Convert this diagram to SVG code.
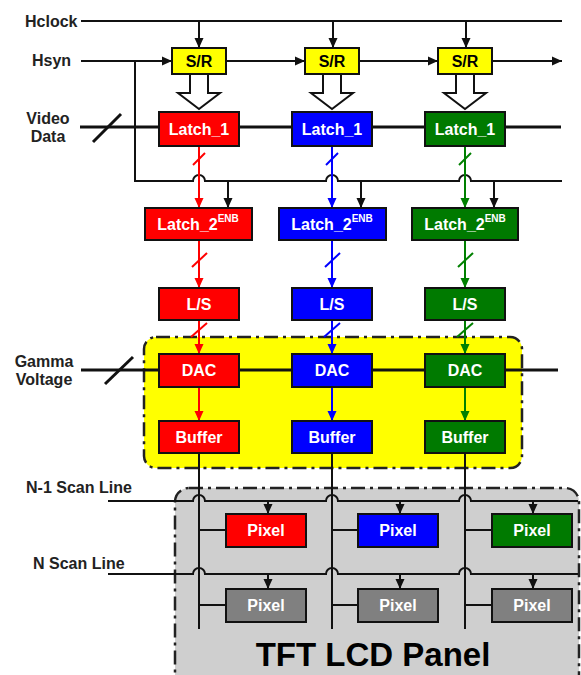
<svg xmlns="http://www.w3.org/2000/svg" width="581" height="675" viewBox="0 0 581 675">
<style>
.lbl{font-family:"Liberation Sans",Arial,sans-serif;font-weight:bold;font-size:16px;fill:#222}
.bt{font-family:"Liberation Sans",Arial,sans-serif;font-weight:bold;font-size:16px;fill:#fff;text-anchor:middle}
.sr{font-family:"Liberation Sans",Arial,sans-serif;font-weight:bold;font-size:16px;fill:#000;text-anchor:middle}
.box{stroke:#111;stroke-width:2}
.r{fill:#ff0000}.b{fill:#0000ff}.g{fill:#007a00}.y{fill:#ffff00}.gr{fill:#808080}
.ln{fill:none;stroke:#111;stroke-width:2}
.thick{fill:none;stroke:#111;stroke-width:3}
.lr{fill:none;stroke:#ff0000;stroke-width:2}
.lb{fill:none;stroke:#0000ff;stroke-width:2}
.lg{fill:none;stroke:#008000;stroke-width:2}
</style>
<defs>
<marker id="ak" markerUnits="userSpaceOnUse" markerWidth="10" markerHeight="10" refX="10" refY="5" orient="auto"><path d="M0,0.5 L10,5 L0,9.5 z" fill="#111"/></marker>
<marker id="ar" markerUnits="userSpaceOnUse" markerWidth="10" markerHeight="10" refX="10" refY="5" orient="auto"><path d="M0,0.5 L10,5 L0,9.5 z" fill="#ff0000"/></marker>
<marker id="ab" markerUnits="userSpaceOnUse" markerWidth="10" markerHeight="10" refX="10" refY="5" orient="auto"><path d="M0,0.5 L10,5 L0,9.5 z" fill="#0000ff"/></marker>
<marker id="ag" markerUnits="userSpaceOnUse" markerWidth="10" markerHeight="10" refX="10" refY="5" orient="auto"><path d="M0,0.5 L10,5 L0,9.5 z" fill="#008000"/></marker>
</defs>

<!-- background regions -->
<g id="panel">
<rect x="175" y="488" width="404" height="200" rx="14" fill="#cfcfcf" stroke="#222" stroke-width="2.5" stroke-dasharray="14,5,3,5"/>
<text x="373" y="666" font-family="'Liberation Sans',Arial,sans-serif" font-weight="bold" font-size="33" fill="#000" text-anchor="middle">TFT LCD Panel</text>
</g>
<g id="yellow-region">
<rect x="144" y="337" width="378" height="131" rx="12" fill="#ffff00" stroke="#222" stroke-width="2.5" stroke-dasharray="14,5,3,5"/>
</g>

<!-- labels -->
<g id="labels">
<text class="lbl" x="25" y="27">Hclock</text>
<text class="lbl" x="32" y="66">Hsyn</text>
<text class="lbl" x="48" y="124" text-anchor="middle">Video</text>
<text class="lbl" x="48" y="142" text-anchor="middle">Data</text>
<text class="lbl" x="44" y="367" text-anchor="middle">Gamma</text>
<text class="lbl" x="44" y="385" text-anchor="middle">Voltage</text>
<text class="lbl" x="26" y="493">N-1 Scan Line</text>
<text class="lbl" x="33" y="569">N Scan Line</text>
</g>

<g id="connectors">
<!-- Hclock -->
<path class="ln" d="M81,21 H562"/>
<path class="ln" d="M199,21 V48" marker-end="url(#ak)"/>
<path class="ln" d="M333,21 V48" marker-end="url(#ak)"/>
<path class="ln" d="M466,21 V48" marker-end="url(#ak)"/>
<!-- Hsyn chain -->
<path class="ln" d="M81,61 H172" marker-end="url(#ak)"/>
<path class="ln" d="M226,61 H305" marker-end="url(#ak)"/>
<path class="ln" d="M359,61 H438" marker-end="url(#ak)"/>
<path class="ln" d="M492,61 H562" marker-end="url(#ak)"/>
<!-- enable line with jumps -->
<path class="ln" d="M135,61 V181 H193 a6,6 0 0 1 12,0 H326 a6,6 0 0 1 12,0 H459 a6,6 0 0 1 12,0 H562"/>
<path class="ln" d="M228,181 V208" marker-end="url(#ak)"/>
<path class="ln" d="M361,181 V208" marker-end="url(#ak)"/>
<path class="ln" d="M494,181 V208" marker-end="url(#ak)"/>
<!-- hollow arrows -->
<path d="M190,74 V93 H178 L199,109 L220,93 H208 V74" fill="#fff" stroke="#111" stroke-width="2"/>
<path d="M323,74 V93 H311 L332,109 L353,93 H341 V74" fill="#fff" stroke="#111" stroke-width="2"/>
<path d="M456,74 V93 H444 L465,109 L486,93 H474 V74" fill="#fff" stroke="#111" stroke-width="2"/>
<!-- video data bus -->
<path class="thick" d="M80,127 H561"/>
<path class="thick" d="M93,142 L121,114"/>
<!-- gamma bus -->
<path class="thick" d="M81,370 H558"/>
<path class="thick" d="M105,384 L133,357"/>
<!-- red column -->
<path class="lr" d="M199,146 V208" marker-end="url(#ar)"/>
<path class="lr" d="M193,165 L205,153"/>
<path class="lr" d="M199,240 V288" marker-end="url(#ar)"/>
<path class="lr" d="M192,267 L207,253"/>
<path class="lr" d="M199,320 V354" marker-end="url(#ar)"/>
<path class="lr" d="M191,337 L207,323"/>
<path class="lr" d="M199,387 V421" marker-end="url(#ar)"/>
<!-- blue column -->
<path class="lb" d="M332,146 V208" marker-end="url(#ab)"/>
<path class="lb" d="M326,165 L338,153"/>
<path class="lb" d="M332,240 V288" marker-end="url(#ab)"/>
<path class="lb" d="M325,267 L340,253"/>
<path class="lb" d="M332,320 V354" marker-end="url(#ab)"/>
<path class="lb" d="M324,337 L340,323"/>
<path class="lb" d="M332,387 V421" marker-end="url(#ab)"/>
<!-- green column -->
<path class="lg" d="M465,146 V208" marker-end="url(#ag)"/>
<path class="lg" d="M459,165 L471,153"/>
<path class="lg" d="M465,240 V288" marker-end="url(#ag)"/>
<path class="lg" d="M458,267 L473,253"/>
<path class="lg" d="M465,320 V354" marker-end="url(#ag)"/>
<path class="lg" d="M457,337 L473,323"/>
<path class="lg" d="M465,387 V421" marker-end="url(#ag)"/>
<!-- data lines -->
<path class="ln" d="M199,453 V629 M199,530 H226 M199,605 H226"/>
<path class="ln" d="M332,453 V629 M332,530 H358 M332,605 H358"/>
<path class="ln" d="M465,453 V629 M465,530 H492 M465,605 H492"/>
<!-- scan lines -->
<path class="ln" d="M108,501 H193 a6,6 0 0 1 12,0 H326 a6,6 0 0 1 12,0 H459 a6,6 0 0 1 12,0 H578"/>
<path class="ln" d="M108,574 H193 a6,6 0 0 1 12,0 H326 a6,6 0 0 1 12,0 H459 a6,6 0 0 1 12,0 H578"/>
<path class="ln" d="M268,501 V514" marker-end="url(#ak)"/>
<path class="ln" d="M400,501 V514" marker-end="url(#ak)"/>
<path class="ln" d="M533,501 V514" marker-end="url(#ak)"/>
<path class="ln" d="M268,574 V589" marker-end="url(#ak)"/>
<path class="ln" d="M400,574 V589" marker-end="url(#ak)"/>
<path class="ln" d="M533,574 V589" marker-end="url(#ak)"/>
</g>

<!-- S/R -->
<g id="sr1"><rect class="box y" x="172" y="48" width="54" height="26"/><text class="sr" x="199" y="67">S/R</text></g>
<g id="sr2"><rect class="box y" x="305" y="48" width="54" height="26"/><text class="sr" x="332" y="67">S/R</text></g>
<g id="sr3"><rect class="box y" x="438" y="48" width="54" height="26"/><text class="sr" x="465" y="67">S/R</text></g>

<!-- Latch_1 -->
<g id="latch1-r"><rect class="box r" x="159" y="112" width="80" height="34"/><text class="bt" x="199" y="135">Latch_1</text></g>
<g id="latch1-b"><rect class="box b" x="292" y="112" width="80" height="34"/><text class="bt" x="332" y="135">Latch_1</text></g>
<g id="latch1-g"><rect class="box g" x="425" y="112" width="80" height="34"/><text class="bt" x="465" y="135">Latch_1</text></g>

<!-- Latch_2 -->
<g id="latch2-r"><rect class="box r" x="145" y="208" width="107" height="32"/><text class="bt" x="198" y="230">Latch_2<tspan font-size="10" dy="-8">ENB</tspan></text></g>
<g id="latch2-b"><rect class="box b" x="279" y="208" width="107" height="32"/><text class="bt" x="332" y="230">Latch_2<tspan font-size="10" dy="-8">ENB</tspan></text></g>
<g id="latch2-g"><rect class="box g" x="412" y="208" width="106" height="32"/><text class="bt" x="465" y="230">Latch_2<tspan font-size="10" dy="-8">ENB</tspan></text></g>

<!-- L/S -->
<g id="ls-r"><rect class="box r" x="159" y="288" width="80" height="32"/><text class="bt" x="199" y="310">L/S</text></g>
<g id="ls-b"><rect class="box b" x="292" y="288" width="80" height="32"/><text class="bt" x="332" y="310">L/S</text></g>
<g id="ls-g"><rect class="box g" x="425" y="288" width="80" height="32"/><text class="bt" x="465" y="310">L/S</text></g>

<!-- DAC -->
<g id="dac-r"><rect class="box r" x="159" y="354" width="80" height="33"/><text class="bt" x="199" y="376">DAC</text></g>
<g id="dac-b"><rect class="box b" x="292" y="354" width="80" height="33"/><text class="bt" x="332" y="376">DAC</text></g>
<g id="dac-g"><rect class="box g" x="425" y="354" width="80" height="33"/><text class="bt" x="465" y="376">DAC</text></g>

<!-- Buffer -->
<g id="buf-r"><rect class="box r" x="159" y="421" width="80" height="32"/><text class="bt" x="199" y="443">Buffer</text></g>
<g id="buf-b"><rect class="box b" x="292" y="421" width="80" height="32"/><text class="bt" x="332" y="443">Buffer</text></g>
<g id="buf-g"><rect class="box g" x="425" y="421" width="80" height="32"/><text class="bt" x="465" y="443">Buffer</text></g>

<!-- Pixels -->
<g id="pix-r1"><rect class="box r" x="226" y="514" width="80" height="33"/><text class="bt" x="266" y="536">Pixel</text></g>
<g id="pix-b1"><rect class="box b" x="358" y="514" width="80" height="33"/><text class="bt" x="398" y="536">Pixel</text></g>
<g id="pix-g1"><rect class="box g" x="492" y="514" width="80" height="33"/><text class="bt" x="532" y="536">Pixel</text></g>
<g id="pix-r2"><rect class="box gr" x="226" y="589" width="80" height="33"/><text class="bt" x="266" y="611">Pixel</text></g>
<g id="pix-b2"><rect class="box gr" x="358" y="589" width="80" height="33"/><text class="bt" x="398" y="611">Pixel</text></g>
<g id="pix-g2"><rect class="box gr" x="492" y="589" width="80" height="33"/><text class="bt" x="532" y="611">Pixel</text></g>
</svg>
